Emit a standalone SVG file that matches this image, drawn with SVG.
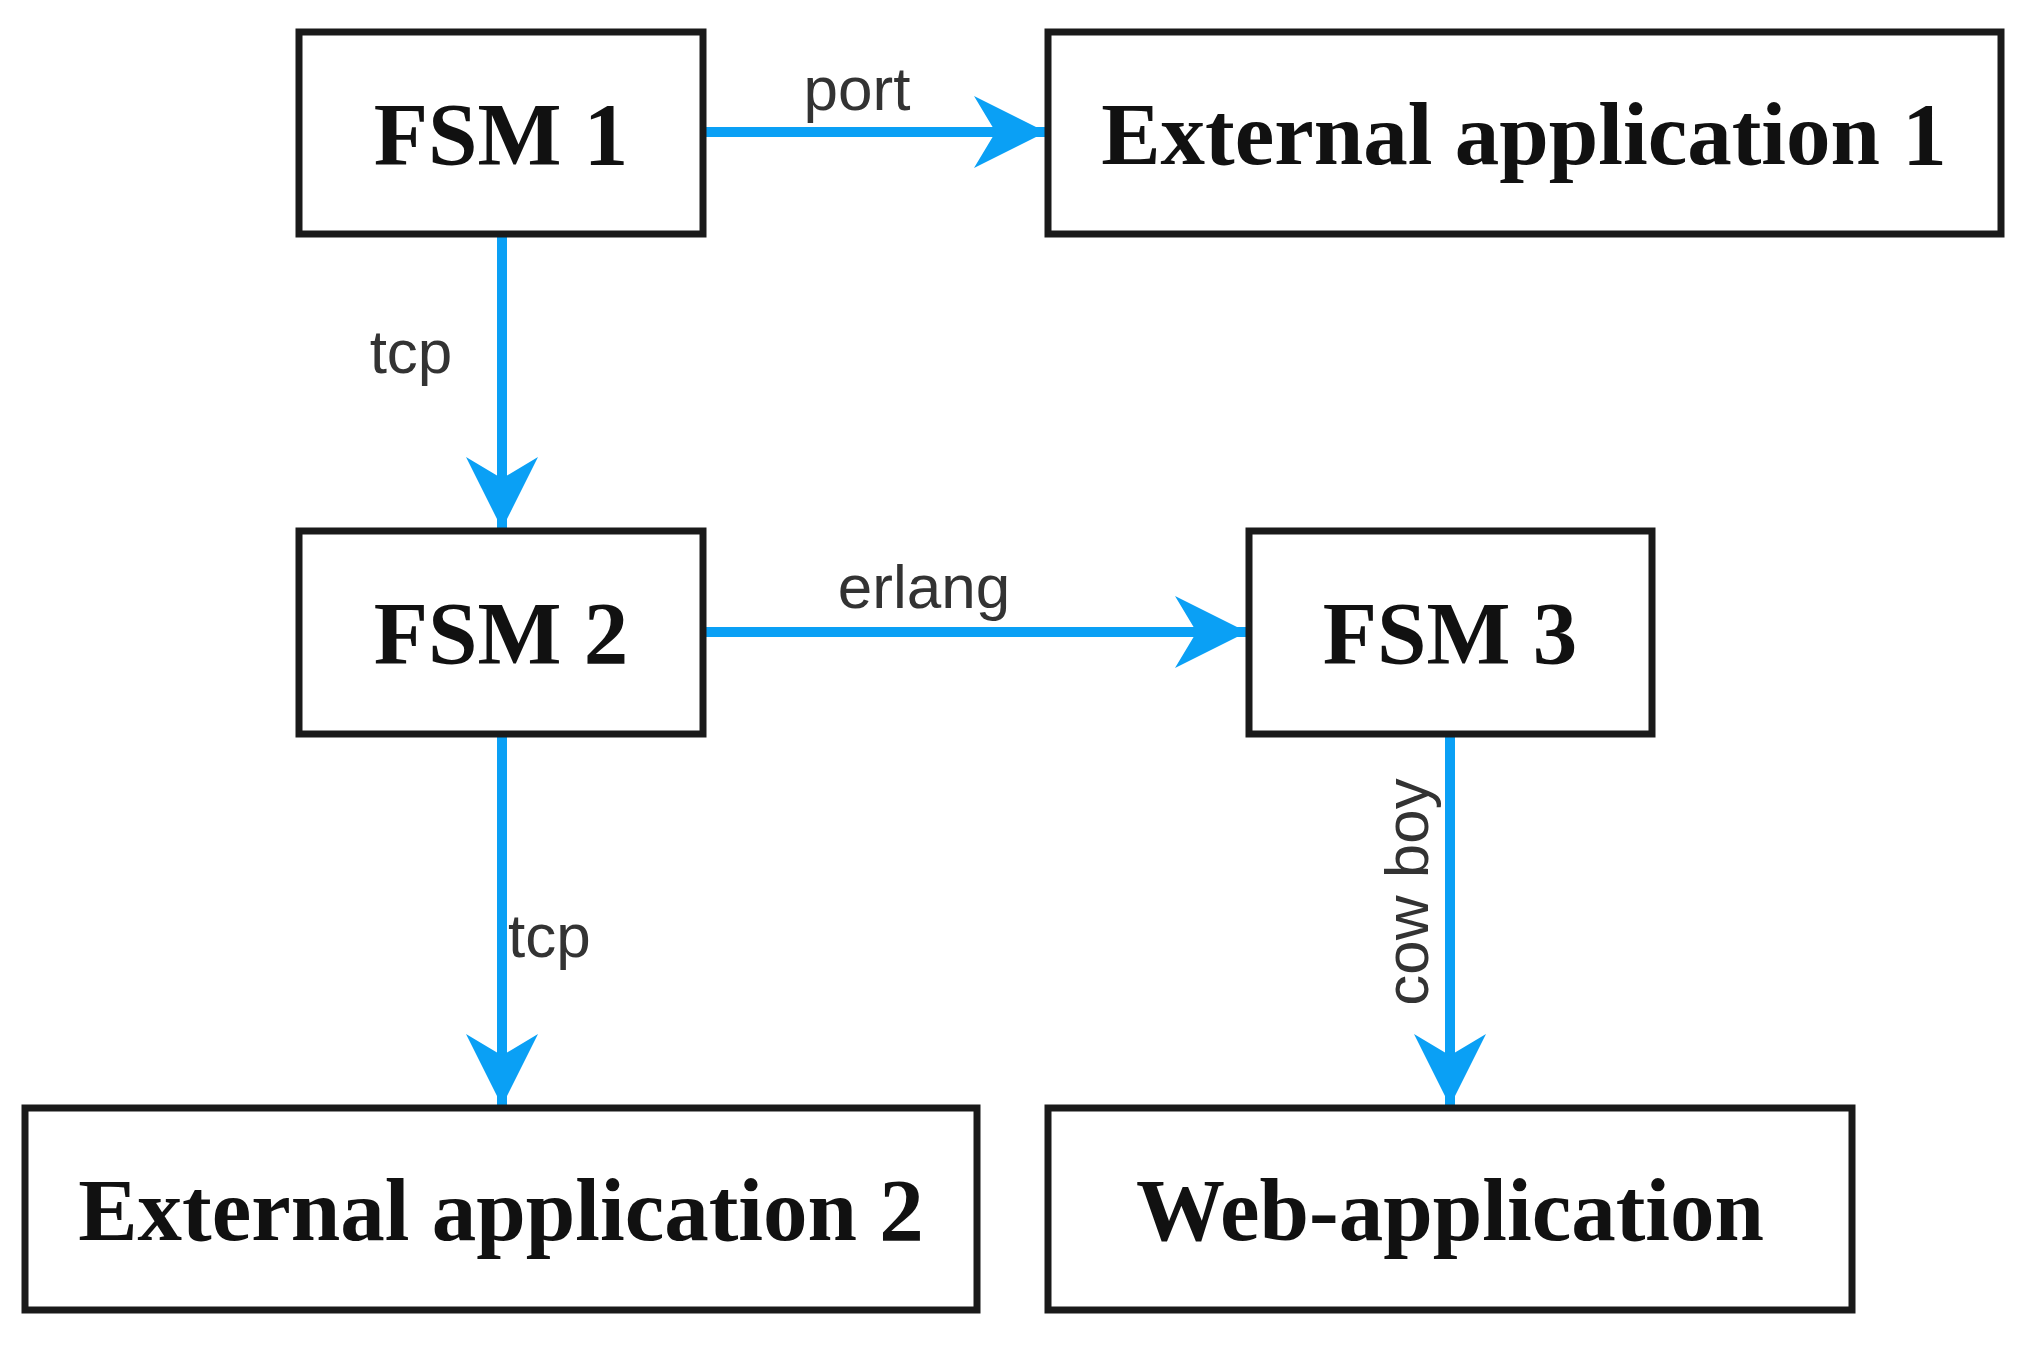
<svg xmlns="http://www.w3.org/2000/svg" width="2027" height="1354" viewBox="0 0 2027 1354">
<style>
.box{fill:#fff;stroke:#1a1a1a;stroke-width:7}
.t{font-family:"Liberation Serif",serif;font-weight:bold;font-size:89px;fill:#111;text-anchor:middle}
.e{stroke:#0aa0f5;stroke-width:10;fill:none}
.l{font-family:"Liberation Sans",Arial,sans-serif;font-size:62px;fill:#333}
</style>
<defs>
<marker id="a" viewBox="0 0 10 10" refX="10" refY="5" markerWidth="7.2" markerHeight="8" markerUnits="strokeWidth" orient="auto">
<path d="M0,0 L10,5 L0,10 L3,5 Z" fill="#0aa0f5"/>
</marker>
</defs>
<rect width="2027" height="1354" fill="#fff"/>
<g id="edges">
<path class="e" d="M703,132 H1046" marker-end="url(#a)"/>
<path class="e" d="M502,234 V529" marker-end="url(#a)"/>
<path class="e" d="M703,632 H1247" marker-end="url(#a)"/>
<path class="e" d="M502,734 V1106" marker-end="url(#a)"/>
<path class="e" d="M1450,734 V1106" marker-end="url(#a)"/>
<rect x="792" y="60" width="130" height="66" fill="#fff"/>
<text class="l" x="857" y="110" text-anchor="middle">port</text>
<text class="l" x="411" y="373" text-anchor="middle">tcp</text>
<rect x="822" y="556" width="204" height="70" fill="#fff"/>
<text class="l" x="924" y="608" text-anchor="middle">erlang</text>
<text class="l" x="508" y="957">tcp</text>
<text class="l" transform="translate(1428,892) rotate(-90)" text-anchor="middle">cow boy</text>
</g>
<g id="fsm1"><rect class="box" x="299" y="32" width="404" height="202"/><text class="t" x="501" y="164">FSM 1</text></g>
<g id="ext1"><rect class="box" x="1048" y="32" width="953" height="202"/><text class="t" x="1524" y="164">External application 1</text></g>
<g id="fsm2"><rect class="box" x="299" y="531" width="404" height="203"/><text class="t" x="501" y="663">FSM 2</text></g>
<g id="fsm3"><rect class="box" x="1249" y="531" width="403" height="203"/><text class="t" x="1450" y="663">FSM 3</text></g>
<g id="ext2"><rect class="box" x="25" y="1108" width="952" height="202"/><text class="t" x="501" y="1240">External application 2</text></g>
<g id="web"><rect class="box" x="1048" y="1108" width="804" height="202"/><text class="t" x="1450" y="1240">Web-application</text></g>
</svg>
